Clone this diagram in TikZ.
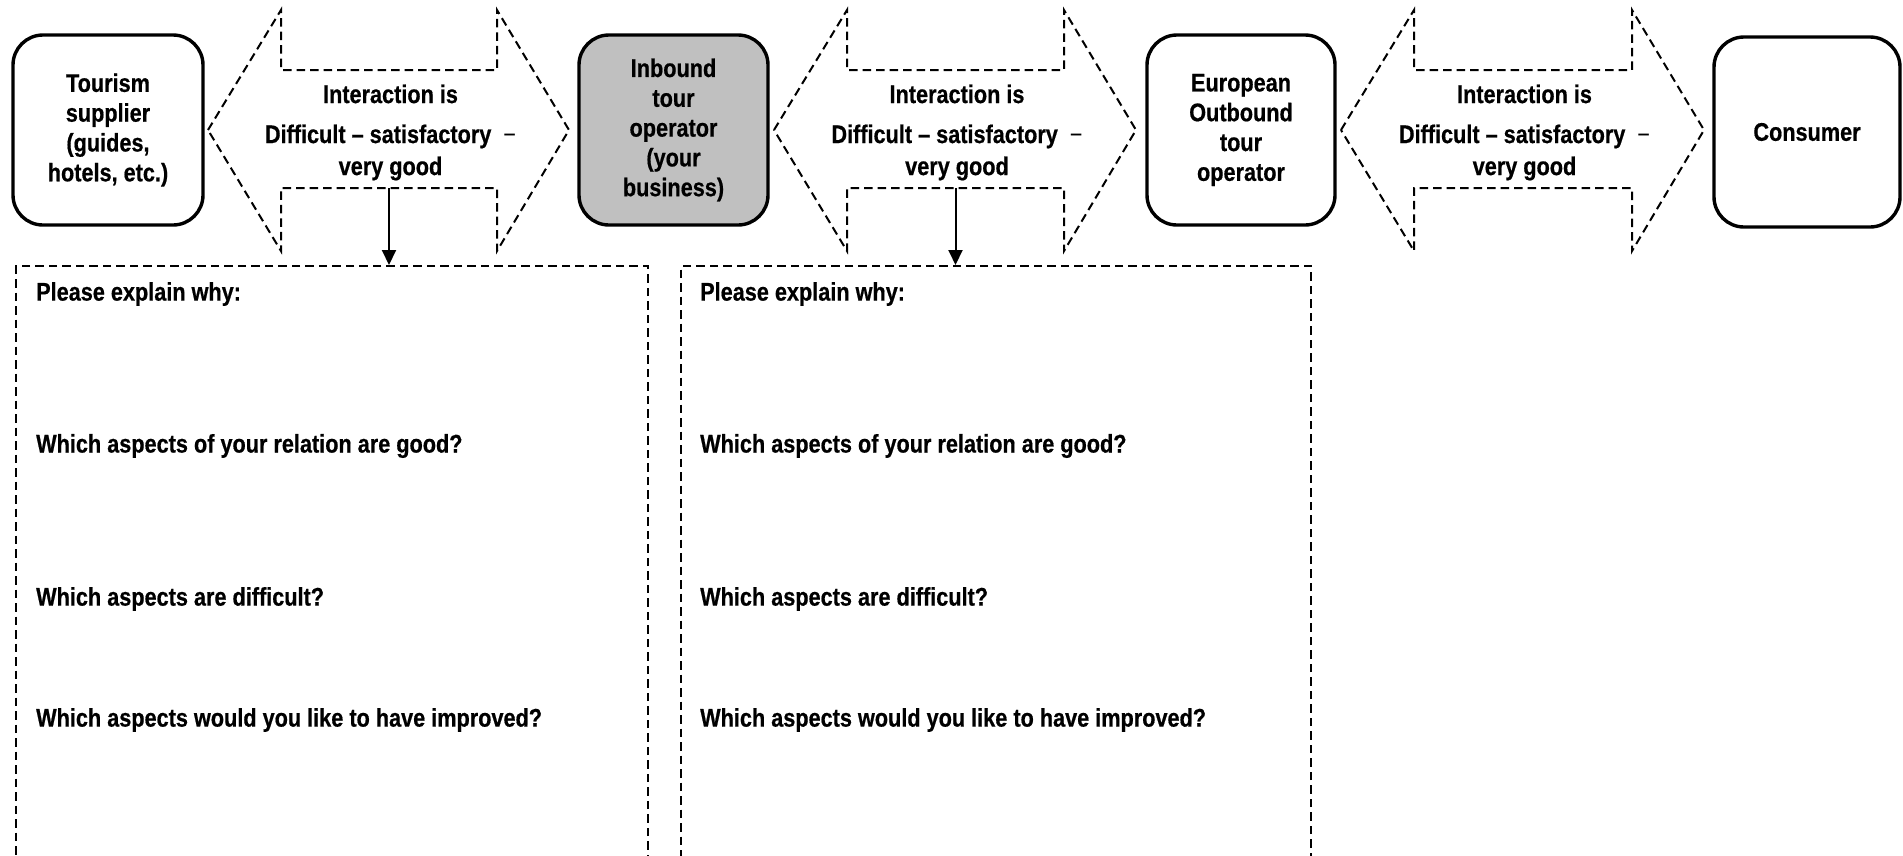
\documentclass[tikz,border=0pt]{standalone}
\usepackage{fontspec}
\setmainfont{Liberation Sans}[FakeStretch=0.85, BoldFeatures={FakeBold=0.6}]
\usetikzlibrary{arrows.meta}

\begin{document}
\begin{tikzpicture}[x=1pt,y=-1pt,
  txt/.style={font=\fontsize{25.5}{29.8}\selectfont\bfseries},
  party/.style={txt, draw, line width=3.4pt, rounded corners=30pt,
    minimum height=190pt, align=center, inner sep=0pt},
  dashline/.style={draw, line width=2pt, dash pattern=on 8.5pt off 5pt},
  qbox/.style={dashline, anchor=north west, inner sep=0pt},
  question/.style={txt, anchor=west, inner sep=0pt},
  pointer/.style={line width=2pt, -{Triangle[length=15pt,width=14pt]}}]

\clip (0,0) rectangle (1903,855);
\fill[white] (0,0) rectangle (1903,855);

% actors in the chain
\node[party, minimum width=190pt] (sup) at (108,130) {Tourism\\supplier\\(guides,\\hotels, etc.)};
\node[party, minimum width=189pt, fill={rgb,255:red,192;green,192;blue,192}] (inb) at (673.5,130) {Inbound\\tour\\operator\\(your\\business)};
\node[party, minimum width=188pt] (eur) at (1241,130) {European\\Outbound\\tour\\operator};
\node[party, minimum width=186pt] (con) at (1807,132) {Consumer};

% dashed two-way arrows with their rating text
\foreach \n/\l/\r in {1/208/569, 2/774/1136, 3/1341/1704} {
  \draw[dashline] (\l,130) -- (\l+73,10) -- (\l+73,70) -- (\r-72,70) -- (\r-72,10)
    -- (\r,130) -- (\r-72,251) -- (\r-72,188) -- (\l+73,188) -- (\l+73,251) -- cycle;
  \node[txt, align=center, inner sep=0pt, font=\fontsize{25.5}{32}\selectfont\bfseries]
    (lab\n) at ({(\l+\r)/2+2},132.5)
    {Interaction is\\[8pt]Difficult -- satisfactory \ {\mdseries −}\\very good};
  \coordinate (foot\n) at ({(\l+\r)/2+0.5},188);
}

% question boxes
\node[qbox, minimum width=632pt, minimum height=640pt] (qa) at (15,265) {};
\node[qbox, minimum width=630pt, minimum height=640pt] (qb) at (680,265) {};

\draw[pointer] (foot1) -- (foot1 |- qa.north);
\draw[pointer] (foot2) -- (foot2 |- qb.north);

\foreach \b/\x in {a/36, b/700} {
  \node[question] (why\b) at (\x,294) {Please explain why:};
  \node[question] (good\b) at (\x,446) {Which aspects of your relation are good?};
  \node[question] (diff\b) at (\x,599) {Which aspects are difficult?};
  \node[question] (impr\b) at (\x,720) {Which aspects would you like to have improved?};
}
\end{tikzpicture}
\end{document}
